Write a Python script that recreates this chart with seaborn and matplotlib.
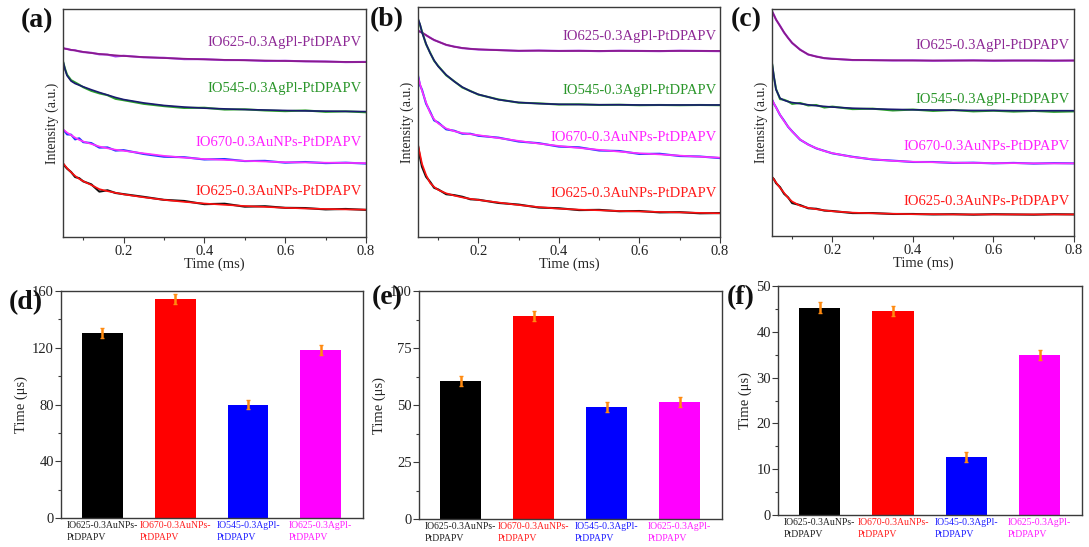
import matplotlib
matplotlib.use("Agg")
import matplotlib.pyplot as plt
import seaborn as sns
import pandas as pd
from matplotlib.ticker import MultipleLocator

# ---------------- data ----------------
# time grid (ms) for decay curves
T = [0.05, 0.055, 0.06, 0.07, 0.08, 0.09, 0.1, 0.12, 0.14, 0.16, 0.18, 0.2,
     0.25, 0.3, 0.35, 0.4, 0.45, 0.5, 0.55, 0.6, 0.65, 0.7, 0.75, 0.8]

SAMPLES = ["IO625-0.3AgPl-PtDPAPV", "IO545-0.3AgPl-PtDPAPV",
           "IO670-0.3AuNPs-PtDPAPV", "IO625-0.3AuNPs-PtDPAPV"]

# panel (a) normalized intensity (data / fit)
A_AG625_DATA = [.829, .826, .825, .820, .819, .814, .811, .808, .801, .800, .792, .795, .788, .786, .780, .780, .776, .776, .772, .773, .770, .770, .767, .768]
A_AG625_FIT = [.828, .826, .824, .821, .818, .815, .812, .807, .803, .800, .797, .794, .789, .785, .782, .779, .777, .775, .774, .772, .771, .769, .768, .767]
A_AG545_DATA = [.770, .738, .712, .688, .678, .668, .657, .641, .630, .622, .606, .600, .584, .574, .566, .567, .559, .560, .555, .552, .555, .549, .551, .547]
A_AG545_FIT = [.772, .735, .708, .684, .673, .666, .659, .646, .634, .623, .612, .603, .588, .577, .570, .565, .562, .559, .557, .555, .553, .552, .551, .550]
A_AU670_DATA = [.470, .462, .450, .449, .428, .433, .416, .412, .392, .393, .379, .381, .364, .352, .350, .340, .342, .333, .334, .326, .329, .324, .326, .322]
A_AU670_FIT = [.472, .465, .458, .447, .436, .426, .419, .408, .397, .389, .383, .378, .367, .356, .348, .342, .338, .334, .331, .328, .327, .326, .325, .324]
A_AU625_DATA = [.322, .310, .300, .285, .263, .258, .244, .231, .199, .205, .193, .188, .176, .163, .158, .144, .146, .133, .135, .128, .127, .121, .123, .119]
A_AU625_FIT = [.324, .313, .302, .284, .268, .255, .245, .228, .210, .201, .194, .187, .174, .163, .154, .147, .141, .136, .132, .128, .125, .123, .121, .120]

# panel (b)
B_AG625_DATA = [.898, .892, .889, .877, .867, .856, .850, .835, .828, .821, .818, .815, .813, .809, .811, .809, .810, .808, .810, .809, .808, .810, .809, .808]
B_AG625_FIT = [.897, .893, .888, .878, .866, .857, .849, .836, .827, .822, .818, .816, .812, .810, .810, .809, .809, .809, .809, .809, .809, .809, .809, .809]
B_AG545_DATA = [.945, .922, .893, .838, .802, .766, .744, .703, .677, .650, .635, .619, .598, .584, .581, .576, .577, .574, .575, .573, .574, .573, .574, .573]
B_AG545_FIT = [.950, .925, .890, .840, .800, .768, .742, .705, .676, .652, .634, .620, .597, .585, .580, .577, .576, .575, .575, .574, .574, .574, .574, .574]
B_AU670_DATA = [.702, .660, .640, .580, .545, .507, .498, .468, .462, .449, .449, .440, .432, .415, .408, .393, .390, .376, .374, .361, .362, .352, .350, .343]
B_AU670_FIT = [.700, .665, .636, .585, .540, .512, .494, .472, .460, .452, .447, .443, .430, .418, .406, .396, .387, .379, .371, .364, .359, .354, .349, .345]
B_AU625_DATA = [.398, .345, .305, .262, .240, .214, .207, .186, .182, .175, .164, .162, .148, .141, .128, .125, .117, .118, .112, .113, .107, .108, .103, .104]
B_AU625_FIT = [.400, .360, .318, .270, .235, .218, .205, .190, .180, .172, .166, .161, .150, .139, .130, .123, .119, .116, .113, .111, .109, .107, .105, .103]

# panel (c)
C_AG625_DATA = [.990, .973, .953, .926, .896, .873, .850, .821, .799, .791, .783, .781, .775, .775, .773, .774, .772, .773, .774, .772, .773, .773, .772, .773]
C_AG625_FIT = [.991, .972, .954, .925, .897, .872, .851, .820, .800, .790, .784, .780, .776, .774, .774, .773, .773, .773, .773, .773, .773, .773, .773, .773]
C_AG545_DATA = [.760, .698, .648, .603, .600, .593, .582, .586, .575, .577, .566, .570, .559, .561, .553, .557, .551, .555, .549, .552, .548, .551, .547, .549]
C_AG545_FIT = [.765, .700, .645, .607, .598, .592, .588, .583, .578, .574, .571, .568, .563, .560, .558, .556, .555, .554, .553, .553, .552, .552, .552, .552]
C_AU670_DATA = [.601, .582, .567, .533, .508, .481, .461, .424, .403, .386, .375, .364, .349, .337, .332, .326, .326, .322, .323, .320, .322, .319, .321, .320]
C_AU670_FIT = [.600, .583, .566, .534, .506, .482, .460, .425, .402, .387, .374, .365, .348, .338, .331, .327, .325, .323, .322, .321, .321, .320, .320, .320]
C_AU625_DATA = [.259, .250, .233, .215, .186, .170, .145, .136, .122, .120, .112, .110, .101, .101, .097, .097, .095, .096, .094, .096, .095, .094, .096, .095]
C_AU625_FIT = [.261, .248, .236, .212, .190, .168, .152, .133, .124, .118, .113, .109, .103, .100, .098, .096, .096, .095, .095, .095, .095, .095, .095, .095]

# bar charts: lifetimes (us)
BAR_CATS = ["IO625-0.3AuNPs-\nPtDPAPV", "IO670-0.3AuNPs-\nPtDPAPV",
            "IO545-0.3AgPl-\nPtDPAPV", "IO625-0.3AgPl-\nPtDPAPV"]
D_VALUES = [130.5, 154.5, 80.0, 118.5]
D_ERRORS = [3.3, 3.5, 3.5, 3.5]
E_VALUES = [60.5, 89.0, 49.2, 51.4]
E_ERRORS = [2.2, 2.2, 2.2, 2.2]
F_VALUES = [45.3, 44.5, 12.6, 34.9]
F_ERRORS = [1.1, 1.1, 1.1, 1.1]
D_YTICKS = [0, 40, 80, 120, 160]
E_YTICKS = [0, 25, 50, 75, 100]
F_YTICKS = [0, 10, 20, 30, 40, 50]

# ---------------- style ----------------
sns.set_theme(style="ticks")
plt.rcParams['font.family'] = ['Liberation Serif', 'DejaVu Serif']
plt.rcParams['axes.edgecolor'] = '#3a3a3a'
plt.rcParams['axes.linewidth'] = 1.0
plt.rcParams['xtick.color'] = '#3a3a3a'
plt.rcParams['ytick.color'] = '#3a3a3a'
plt.rcParams['xtick.labelcolor'] = '#222222'
plt.rcParams['ytick.labelcolor'] = '#222222'

W, H = 1089, 547
fig = plt.figure(figsize=(W / 100, H / 100), dpi=100)


def add_ax(l, t, r, b):
    return fig.add_axes([l / W, (H - b) / H, (r - l) / W, (b - t) / H])


DATA_COLORS = ["#a23ce6", "#2ca02c", "#1f3cff", "#111111"]
FIT_COLORS = ["#8a1a8a", "#1a1a70", "#ff30ff", "#ff1010"]
LABEL_COLORS = ["#8e2a96", "#2b962b", "#ff22ff", "#ff1a1a"]

top_panels = [
    ((63, 9, 366, 237), [(A_AG625_DATA, A_AG625_FIT), (A_AG545_DATA, A_AG545_FIT),
                         (A_AU670_DATA, A_AU670_FIT), (A_AU625_DATA, A_AU625_FIT)],
     [0.853, 0.653, 0.413, 0.200], 0.987),
    ((418, 7, 720, 237), [(B_AG625_DATA, B_AG625_FIT), (B_AG545_DATA, B_AG545_FIT),
                          (B_AU670_DATA, B_AU670_FIT), (B_AU625_DATA, B_AU625_FIT)],
     [0.871, 0.636, 0.433, 0.190], 0.99),
    ((772, 9, 1074, 236), [(C_AG625_DATA, C_AG625_FIT), (C_AG545_DATA, C_AG545_FIT),
                           (C_AU670_DATA, C_AU670_FIT), (C_AU625_DATA, C_AU625_FIT)],
     [0.839, 0.600, 0.394, 0.150], 0.987),
]

for box, series, label_ys, label_x in top_panels:
    ax = add_ax(*box)
    for i, (dat, fit) in enumerate(series):
        sns.lineplot(x=T, y=dat, ax=ax, color=DATA_COLORS[i], lw=1.5)
        sns.lineplot(x=T, y=fit, ax=ax, color=FIT_COLORS[i], lw=1.2)
        ax.text(label_x, label_ys[i], SAMPLES[i], transform=ax.transAxes,
                ha='right', va='center', fontsize=10.5, color=LABEL_COLORS[i])
    ax.set_xlim(0.05, 0.8)
    ax.set_ylim(0, 1)
    ax.set_yticks([])
    ax.xaxis.set_minor_locator(MultipleLocator(0.1))
    ax.set_xticks([0.2, 0.4, 0.6, 0.8])
    ax.set_xticklabels(["0.2", "0.4", "0.6", "0.8"])
    ax.tick_params(axis='x', which='major', direction='out', length=4, width=0.8,
                   pad=1.5, labelsize=10.5)
    ax.tick_params(axis='x', which='minor', direction='out', length=2.5, width=0.8)
    ax.set_xlabel("Time (ms)", fontsize=10.5, labelpad=0)
    ax.set_ylabel("Intensity (a.u.)", fontsize=10, labelpad=3)
    for s in ax.spines.values():
        s.set_visible(True)

BAR_COLORS = ["#000000", "#ff0000", "#0000ff", "#ff00ff"]
TICK_COLORS = ["#222222", "#ff2020", "#2020ff", "#ff20ff"]

bar_panels = [
    ((61, 291, 363, 518), D_VALUES, D_ERRORS, D_YTICKS, 20),
    ((419, 291, 722, 519), E_VALUES, E_ERRORS, E_YTICKS, 12.5),
    ((778, 286, 1082, 515), F_VALUES, F_ERRORS, F_YTICKS, 5),
]

for box, vals, errs, yt, minor in bar_panels:
    ax = add_ax(*box)
    df = pd.DataFrame({"cat": BAR_CATS, "val": vals})
    sns.barplot(data=df, x="cat", y="val", hue="cat", palette=BAR_COLORS,
                saturation=1, width=0.56, legend=False, ax=ax, errorbar=None,
                edgecolor='none')
    ax.errorbar(range(len(vals)), vals, yerr=errs, fmt='none', ecolor='#ff8a10',
                elinewidth=1.8, capsize=1.5, capthick=1.0, zorder=5)
    ax.set_xlim(-0.57, 3.58)
    ax.set_ylim(yt[0], yt[-1])
    ax.set_yticks(yt)
    ax.yaxis.set_minor_locator(MultipleLocator(minor))
    ax.tick_params(axis='y', which='major', direction='out', length=4, width=0.8,
                   pad=1, labelsize=10.5)
    ax.tick_params(axis='y', which='minor', direction='out', length=2.5, width=0.8)
    ax.tick_params(axis='x', length=0, pad=2, labelsize=7)
    for lbl, c in zip(ax.get_xticklabels(), TICK_COLORS):
        lbl.set_color(c)
        lbl.set_multialignment('left')
        lbl.set_linespacing(1.45)
    ax.set_xlabel("")
    ax.set_ylabel("Time (\u03bcs)", fontsize=10.5, labelpad=3)
    for s in ax.spines.values():
        s.set_visible(True)

# panel letters
for txt, (px, py) in zip(["(a)", "(b)", "(c)", "(d)", "(e)", "(f)"],
                         [(37, 21), (387, 20), (746, 20), (26, 303), (387, 298), (741, 298)]):
    fig.text(px / W, (H - py) / H, txt, ha='center', va='center',
             fontsize=20, fontweight='bold', color='#111111')

fig.savefig("out.png", dpi=100)
